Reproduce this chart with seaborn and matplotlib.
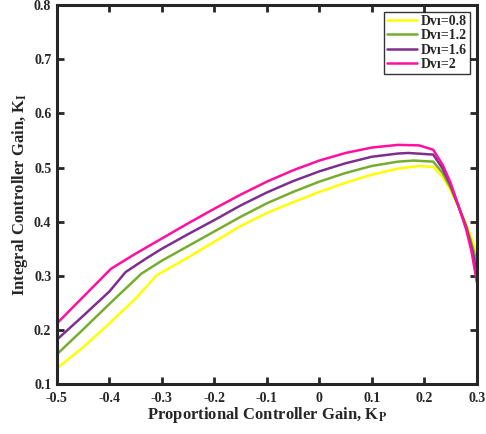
import pandas as pd
import numpy as np
import matplotlib
matplotlib.use('Agg')
import matplotlib.pyplot as plt
import seaborn as sns

sns.set_style('ticks')
plt.rcParams['font.family'] = ['Liberation Serif', 'DejaVu Serif']
plt.rcParams['font.weight'] = 'bold'
plt.rcParams['mathtext.fontset'] = 'stix'

# Dvi = 0.8
kp_08 = [-0.5, -0.45, -0.4, -0.35, -0.31, -0.25, -0.2, -0.15, -0.1, -0.05, 0.0, 0.05, 0.1, 0.15, 0.19, 0.217,
         0.235, 0.25, 0.265, 0.28, 0.29, 0.3]
ki_08 = [0.129, 0.168, 0.212, 0.258, 0.301, 0.334, 0.363, 0.392, 0.416, 0.436, 0.455, 0.472, 0.487, 0.498, 0.503, 0.501,
         0.483, 0.458, 0.428, 0.395, 0.370, 0.341]

# Dvi = 1.2
kp_12 = [-0.5, -0.45, -0.4, -0.339, -0.3, -0.25, -0.2, -0.15, -0.1, -0.05, 0.0, 0.05, 0.1, 0.15, 0.18, 0.217,
         0.235, 0.25, 0.265, 0.28, 0.29, 0.3]
ki_12 = [0.155, 0.201, 0.248, 0.304, 0.328, 0.355, 0.382, 0.409, 0.434, 0.455, 0.474, 0.490, 0.503, 0.511, 0.513, 0.511,
         0.490, 0.463, 0.429, 0.392, 0.360, 0.326]

# Dvi = 1.6
kp_16 = [-0.5, -0.45, -0.4, -0.369, -0.33, -0.3, -0.25, -0.2, -0.15, -0.1, -0.05, 0.0, 0.05, 0.1, 0.15, 0.17, 0.217,
         0.235, 0.25, 0.265, 0.28, 0.29, 0.3]
ki_16 = [0.182, 0.226, 0.271, 0.307, 0.332, 0.350, 0.377, 0.403, 0.430, 0.454, 0.475, 0.493, 0.508, 0.520, 0.526, 0.527, 0.524,
         0.498, 0.468, 0.429, 0.389, 0.352, 0.307]

# Dvi = 2
kp_20 = [-0.5, -0.45, -0.397, -0.35, -0.3, -0.25, -0.2, -0.15, -0.1, -0.05, 0.0, 0.05, 0.1, 0.15, 0.19, 0.217,
         0.235, 0.25, 0.265, 0.28, 0.29, 0.3]
ki_20 = [0.212, 0.261, 0.313, 0.341, 0.369, 0.397, 0.424, 0.450, 0.474, 0.495, 0.513, 0.527, 0.537, 0.542, 0.541, 0.533,
         0.505, 0.472, 0.430, 0.385, 0.345, 0.289]

labels = ['Dv\u0131=0.8', 'Dv\u0131=1.2', 'Dv\u0131=1.6', 'Dv\u0131=2']
colors = ['#FFFF00', '#77AC30', '#7E2F8E', '#FF10A0']

frames = []
for lab, kp, ki in zip(labels, [kp_08, kp_12, kp_16, kp_20], [ki_08, ki_12, ki_16, ki_20]):
    frames.append(pd.DataFrame({'Kp': kp, 'Ki': ki, 'series': lab}))
df = pd.concat(frames, ignore_index=True)

fig = plt.figure(figsize=(4.86, 4.34), dpi=100)
ax = fig.add_axes([0.117, 0.115, 0.864, 0.873])
sns.lineplot(data=df, x='Kp', y='Ki', hue='series', palette=dict(zip(labels, colors)),
             sort=False, estimator=None, linewidth=1.8, ax=ax)

ax.set_xlim(-0.5, 0.3)
ax.set_ylim(0.1, 0.8)
ax.set_xticks(np.arange(-0.5, 0.31, 0.1))
ax.set_xticklabels(['-0.5', '-0.4', '-0.3', '-0.2', '-0.1', '0', '0.1', '0.2', '0.3'])
ax.set_yticks(np.arange(0.1, 0.81, 0.1))
ax.set_yticklabels(['0.1', '0.2', '0.3', '0.4', '0.5', '0.6', '0.7', '0.8'])
ax.tick_params(direction='in', length=5, width=2, top=True, right=True, labelsize=10)
ax.tick_params(axis='x', pad=6)
ax.tick_params(axis='y', pad=4)
for lbl in ax.get_xticklabels() + ax.get_yticklabels():
    lbl.set_fontweight('bold')
for sp in ax.spines.values():
    sp.set_linewidth(2.2)
    sp.set_color('#262626')

ax.set_xlabel(r'Proportional Controller Gain, K$_{\mathbf{P}}$', fontsize=12, fontweight='bold', labelpad=0)
ax.set_ylabel(r'Integral Controller Gain, K$_{\mathbf{I}}$', fontsize=12, fontweight='bold', labelpad=3)

leg = ax.legend(loc='upper right', frameon=True, fancybox=False, fontsize=10, handlelength=2.2,
                borderpad=0.2, labelspacing=0.1, handletextpad=0.25, borderaxespad=0.5)
leg.get_frame().set_edgecolor('black')
leg.get_frame().set_linewidth(1.0)
for t in leg.get_texts():
    t.set_fontweight('bold')

fig.savefig('out.png', dpi=100)
